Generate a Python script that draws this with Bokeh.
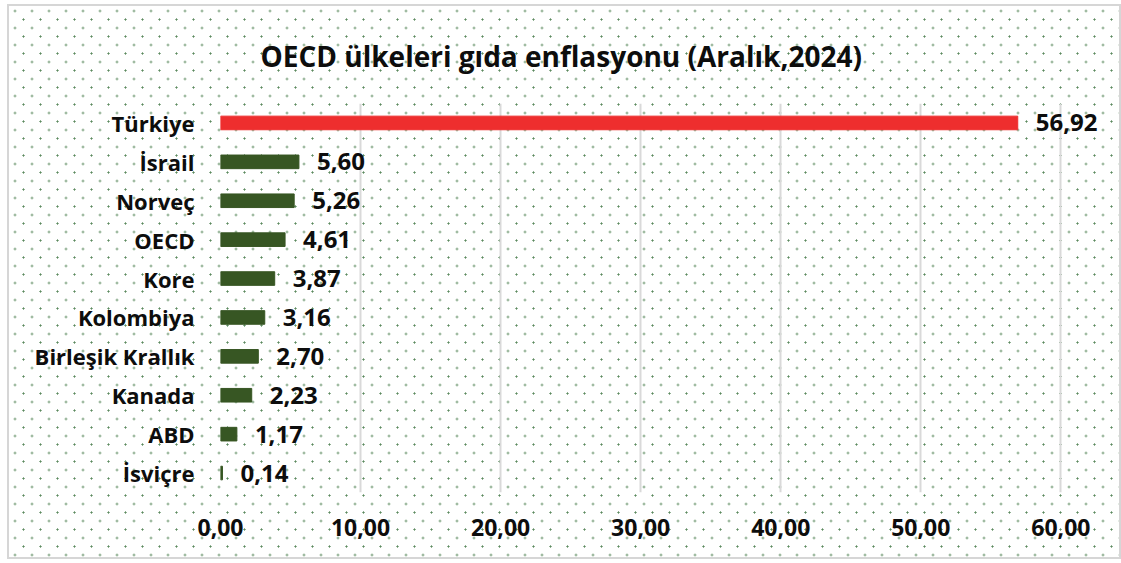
from bokeh.plotting import figure
from bokeh.models import ColumnDataSource, FactorRange, Range1d, FixedTicker
from bokeh.core.properties import value
from bokeh.embed import file_html
from bokeh.resources import INLINE

# ---- data ----
countries = ["Türkiye", "İsrail", "Norveç", "OECD", "Kore", "Kolombiya",
             "Birleşik Krallık", "Kanada", "ABD", "İsviçre"]
values = [56.92, 5.60, 5.26, 4.61, 3.87, 3.16, 2.70, 2.23, 1.17, 0.14]
highlight = "Türkiye"
x_ticks = [0, 10, 20, 30, 40, 50, 60]
x_tick_labels = ["0,00", "10,00", "20,00", "30,00", "40,00", "50,00", "60,00"]
title_text = "OECD ülkeleri gıda enflasyonu (Aralık,2024)"

RED = "#ee2e2e"
GREEN = "#375623"
GRID = "#d9d9d9"
TEXT = "#0d0d0d"
FONT = "Open Sans"

labels = [f"{v:.2f}".replace(".", ",") for v in values]
colors = [RED if c == highlight else GREEN for c in countries]
source = ColumnDataSource(dict(country=countries, val=values, label=labels, color=colors))

p = figure(
    width=1114, height=555,
    y_range=FactorRange(factors=list(reversed(countries)), range_padding=0),
    x_range=Range1d(0, 63.9),
    output_backend="svg", toolbar_location=None,
    min_border_left=213, min_border_right=6, min_border_top=99, min_border_bottom=67,
)
p.background_fill_color = None
p.border_fill_color = None
p.outline_line_color = None
p.styles = {
    "margin-left": "7px",
    "margin-top": "4px",
    "background-image": "radial-gradient(circle at center, #5c8a5f 0.8px, rgba(255,255,255,0) 1.4px), "
                        "radial-gradient(circle at center, #5c8a5f 0.8px, rgba(255,255,255,0) 1.4px)",
    "background-size": "17px 17px, 17px 17px",
    "background-position": "-0.5px -1.5px, 8px 7px",
    "background-color": "white",
    "outline": "2px solid #d6d6d6",
    "outline-offset": "-2px",
}

p.title.text = title_text
p.title.text_font = FONT
p.title.text_font_size = "28px"
p.title.text_font_style = "bold"
p.title.text_color = TEXT
p.title.align = "left"
p.title.offset = 40
p.title.standoff = 57

p.hbar(y="country", right="val", left=0, height=0.35, color="color", source=source)
p.text(x="val", y="country", text="label", source=source, x_offset=18,
       text_baseline="middle", text_align="left", text_font=value(FONT),
       text_font_style="bold", text_font_size="24px", text_color=TEXT)

# x axis
xa = p.xaxis[0]
xa.ticker = FixedTicker(ticks=x_ticks)
xa.major_label_overrides = {t: l for t, l in zip(x_ticks, x_tick_labels)}
xa.axis_line_color = None
xa.major_tick_line_color = None
xa.minor_tick_line_color = None
xa.major_label_standoff = 20
xa.major_label_text_font = FONT
xa.major_label_text_font_style = "bold"
xa.major_label_text_font_size = "23px"
xa.major_label_text_color = TEXT

# y axis
ya = p.yaxis[0]
ya.axis_line_color = None
ya.major_tick_line_color = None
ya.minor_tick_line_color = None
ya.major_label_standoff = 20
ya.major_label_text_font = FONT
ya.major_label_text_font_style = "bold"
ya.major_label_text_font_size = "22px"
ya.major_label_text_color = TEXT

p.xgrid.grid_line_color = GRID
p.xgrid.grid_line_width = 2
p.ygrid.grid_line_color = None

open("out.html", "w").write(file_html(p, INLINE))
